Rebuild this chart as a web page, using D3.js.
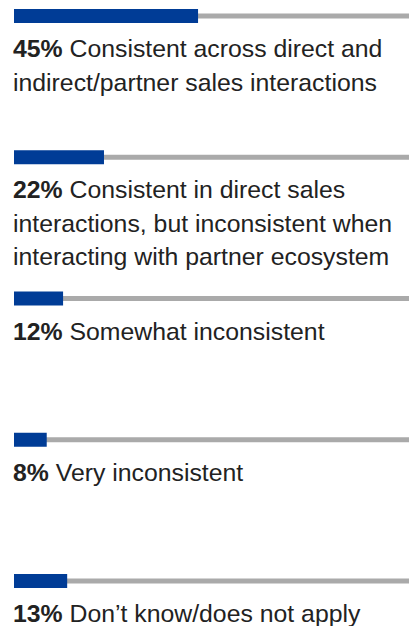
<!DOCTYPE html>
<meta charset="utf-8" />
<style>
  body { margin: 0; background: #fff; }
  svg { display: block; }
</style>
<svg width="409" height="626"></svg>
<script src="https://d3js.org/d3.v7.min.js"></script>
<script>
    var svg = d3.select("svg");
    var width = +svg.attr("width");
    var height = +svg.attr("height");

    // data
    var values = [45, 22, 12, 8, 13];
    var labels = [
        ["Consistent across direct and", "indirect/partner sales interactions"],
        ["Consistent in direct sales", "interactions, but inconsistent when", "interacting with partner ecosystem"],
        ["Somewhat inconsistent"],
        ["Very inconsistent"],
        ["Don\u2019t know/does not apply"]
    ];

    var x = d3.scaleLinear().domain([0, 100]).range([14, 423]);
    var y = d3.scaleBand()
        .domain(d3.range(values.length))
        .range([9, 9 + 141.25 * values.length])
        .paddingInner(0);

    var barH = 14;
    var lineH = 33.5;

    var row = svg.append("g")
        .selectAll("g")
        .data(values)
        .enter()
        .append("g")
        .attr("transform", function(d, i) { return "translate(0," + y(i) + ")"; });

    // grey track
    row.append("rect")
        .attr("x", x(0))
        .attr("y", barH / 2 - 2.5)
        .attr("width", width - x(0))
        .attr("height", 5)
        .attr("fill", "#aaaaaa");

    // blue bar
    row.append("rect")
        .attr("x", x(0))
        .attr("y", 0)
        .attr("width", function(d) { return x(d) - x(0); })
        .attr("height", barH)
        .attr("fill", "#003c96");

    var text = row.append("text")
        .attr("font-family", "'Liberation Sans', Arial, Helvetica, sans-serif")
        .attr("font-size", "24.8px")
        .attr("fill", "#222");

    text.each(function(d, i) {
        var t = d3.select(this);
        labels[i].forEach(function(line, j) {
            var ts = t.append("tspan")
                .attr("x", x(0) - 1)
                .attr("y", 48 + j * lineH);
            if (j === 0) {
                ts.append("tspan").attr("font-weight", "bold").text(d + "%");
                ts.append("tspan").text(" " + line);
            } else {
                ts.text(line);
            }
        });
    });
</script>
